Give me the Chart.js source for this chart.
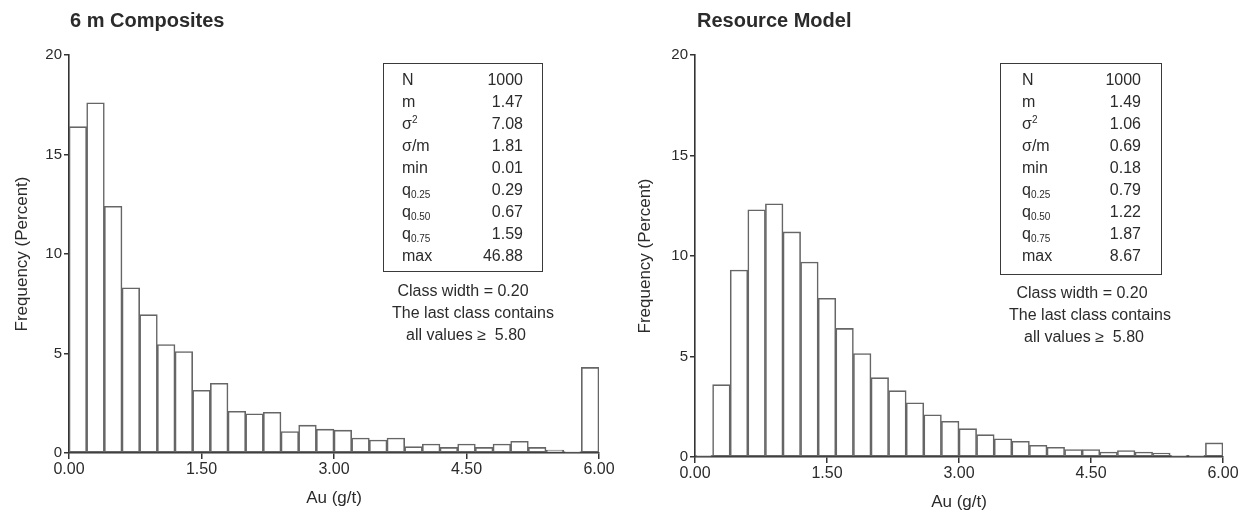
<!DOCTYPE html>
<html>
<head>
<meta charset="utf-8">
<script src="https://cdn.jsdelivr.net/npm/chart.js@4.4.1/dist/chart.umd.min.js"></script>
<style>
  html, body { margin: 0; padding: 0; background: #fff; }
  body { width: 1242px; height: 513px; position: relative; overflow: hidden;
         font-family: "Liberation Sans", Arial, sans-serif; color: #2b2b2b; }
  canvas { position: absolute; top: 0; }
  .title { position: absolute; top: 9px; font-size: 20px; font-weight: bold; color: #2b2b2b; white-space: nowrap; }
  .stats { position: absolute; border: 1.5px solid #3a3a3a; box-sizing: border-box; font-size: 16px; }
  .row { position: absolute; height: 22px; line-height: 22px; white-space: nowrap; }
  .row .lab { position: absolute; left: 0; }
  .row .val { position: absolute; right: 0; }
  .row sub { font-size: 10px; position: relative; top: 3px; vertical-align: baseline; }
  .row sup { font-size: 10px; position: relative; top: -6px; vertical-align: baseline; }
  .note { position: absolute; width: 300px; text-align: center; font-size: 16px; line-height: 22px; white-space: nowrap; }
</style>
</head>
<body>
<canvas id="compChart" width="620" height="513" style="left:0;width:620px;height:513px"></canvas>
<canvas id="modelChart" width="622" height="513" style="left:620px;width:622px;height:513px"></canvas>

<div class="title" style="left:70px">6 m Composites</div>
<div class="title" style="left:697px">Resource Model</div>

<div id="compStats" class="stats" style="left:383px;top:63px;width:160px;height:209px"></div>
<div id="modelStats" class="stats" style="left:1000px;top:63px;width:162px;height:212px"></div>

<div class="note" style="left:313px;top:280px">Class width = 0.20</div>
<div class="note" style="left:323px;top:302px">The last class contains</div>
<div class="note" style="left:316px;top:324px">all values &ge;&nbsp; 5.80</div>

<div class="note" style="left:932px;top:282px">Class width = 0.20</div>
<div class="note" style="left:940px;top:304px">The last class contains</div>
<div class="note" style="left:934px;top:326px">all values &ge;&nbsp; 5.80</div>

<script>
// class mid points (class width 0.20, last class holds all values >= 5.80)
const classMids = [0.1, 0.3, 0.5, 0.7, 0.9, 1.1, 1.3, 1.5, 1.7, 1.9,
                   2.1, 2.3, 2.5, 2.7, 2.9, 3.1, 3.3, 3.5, 3.7, 3.9,
                   4.1, 4.3, 4.5, 4.7, 4.9, 5.1, 5.3, 5.5, 5.7, 5.9];

// frequency (percent) per class
const compositesPct = [16.4, 17.6, 12.4, 8.3, 6.95, 5.45, 5.1, 3.15, 3.5, 2.1,
                       1.97, 2.05, 1.08, 1.4, 1.2, 1.15, 0.75, 0.65, 0.75, 0.32,
                       0.45, 0.28, 0.45, 0.28, 0.45, 0.59, 0.28, 0.15, 0.07, 4.3];
const modelPct = [0.08, 3.6, 9.3, 12.3, 12.6, 11.2, 9.7, 7.9, 6.4, 5.15,
                  3.95, 3.3, 2.7, 2.1, 1.78, 1.41, 1.11, 0.91, 0.78, 0.58,
                  0.48, 0.37, 0.37, 0.25, 0.32, 0.25, 0.2, 0.08, 0.08, 0.7];

const xTicks = [0, 1.5, 3, 4.5, 6];
const yTicks = [0, 5, 10, 15, 20];

// summary statistics
const statLabels = ['N', 'm', 'σ<sup>2</sup>', 'σ/m', 'min',
                    'q<sub>0.25</sub>', 'q<sub>0.50</sub>', 'q<sub>0.75</sub>', 'max'];
const compositesStats = ['1000', '1.47', '7.08', '1.81', '0.01', '0.29', '0.67', '1.59', '46.88'];
const modelStats = ['1000', '1.49', '1.06', '0.69', '0.18', '0.79', '1.22', '1.87', '8.67'];

const ink = '#2b2b2b';

function fillStats(id, values, padL, padR) {
    let box = document.getElementById(id);
    let html = '';
    statLabels.forEach((lab, i) => {
        html += '<div class="row" style="top:' + (5 + 22 * i) + 'px;left:' + padL + 'px;right:' + padR + 'px">' +
                '<span class="lab">' + lab + '</span><span class="val">' + values[i] + '</span></div>';
    });
    box.innerHTML = html;
}

function makeHist(canvasId, values, cfg) {
    let ctx = document.getElementById(canvasId).getContext('2d');
    return new Chart(ctx, {
        type: 'bar',
        data: {
            datasets: [{
                data: classMids.map((m, i) => ({ x: m, y: values[i] })),
                backgroundColor: '#ffffff',
                borderColor: '#666666',
                borderWidth: 1.6,
                borderSkipped: false,
                barPercentage: 1,
                categoryPercentage: 1
            }]
        },
        options: {
            responsive: false,
            animation: false,
            layout: { padding: { top: 55, right: cfg.padRight, left: 0, bottom: 0 } },
            plugins: { legend: { display: false }, tooltip: { enabled: false } },
            scales: {
                x: {
                    type: 'linear',
                    min: 0,
                    max: 6,
                    offset: false,
                    afterBuildTicks: s => { s.ticks = xTicks.map(v => ({ value: v })); },
                    afterFit: s => { s.height = cfg.xHeight; },
                    ticks: { callback: v => Number(v).toFixed(2), font: { size: 16, family: 'Liberation Sans' },
                             color: ink, padding: 1, maxRotation: 0, autoSkip: false },
                    grid: { display: true, offset: false, drawOnChartArea: false, drawTicks: true, tickLength: 6,
                            color: '#333', lineWidth: 1.5 },
                    border: { display: true, color: '#333', width: 1.6 },
                    title: { display: true, text: 'Au (g/t)', color: ink,
                             font: { size: 17, family: 'Liberation Sans' }, padding: { top: 0, bottom: cfg.xTitlePad } }
                },
                y: {
                    min: 0,
                    max: 20,
                    afterBuildTicks: s => { s.ticks = yTicks.map(v => ({ value: v })); },
                    afterFit: s => { s.width = cfg.yWidth; },
                    ticks: { font: { size: 15, family: 'Liberation Sans' }, color: ink, padding: 2 },
                    grid: { display: true, drawOnChartArea: false, drawTicks: true, tickLength: 5,
                            color: '#333', lineWidth: 1.5 },
                    border: { display: true, color: '#333', width: 1.6 },
                    title: { display: true, text: 'Frequency (Percent)', color: ink,
                             font: { size: 17, family: 'Liberation Sans' }, padding: { top: cfg.yTitlePad, bottom: 0 } }
                }
            }
        }
    });
}

fillStats('compStats', compositesStats, 18, 19);
fillStats('modelStats', modelStats, 21, 20);

makeHist('compChart', compositesPct, { padRight: 21, xHeight: 60, yWidth: 69, yTitlePad: 12, xTitlePad: 4 });
makeHist('modelChart', modelPct, { padRight: 19, xHeight: 56, yWidth: 75, yTitlePad: 15, xTitlePad: 0 });
</script>
</body>
</html>
